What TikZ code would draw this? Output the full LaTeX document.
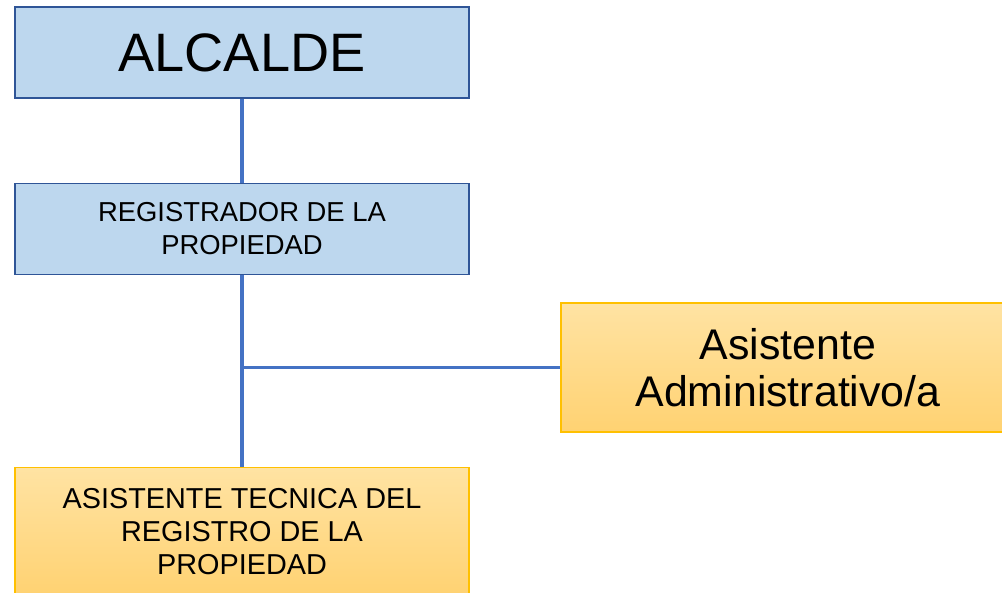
\documentclass[tikz,border=0pt]{standalone}
\usepackage{fontspec}
\setmainfont{Liberation Sans}
\usetikzlibrary{positioning}

\definecolor{cajaazul}{HTML}{BDD7EE}
\definecolor{bordeazul}{HTML}{2F5597}
\definecolor{lineaazul}{HTML}{4472C4}
\definecolor{orotop}{HTML}{FFE3A3}
\definecolor{orobot}{HTML}{FFD272}
\definecolor{bordeoro}{HTML}{FFC000}

\begin{document}
\begin{tikzpicture}[
  azul/.style={draw=bordeazul, line width=0.8pt, fill=cajaazul, minimum width=11.35cm, minimum height=2.275cm, align=center, inner sep=0pt},
  oro/.style={draw=bordeoro, line width=0.8pt, top color=orotop, bottom color=orobot, minimum width=11.35cm, align=center, inner sep=0pt},
  enlace/.style={lineaazul, line width=2.8pt}]
	  \useasboundingbox (0,0) rectangle (25.05,-14.8);
	  \clip (0,0) rectangle (25.05,-14.8);

	  % Jefatura
	  \node[azul, font=\fontsize{38.5}{44}\selectfont] (alcalde) at (6.05,-1.3125) {ALCALDE};
	  \node[azul, below=2.1cm of alcalde, font=\fontsize{19.5}{23}\selectfont] (registrador) {REGISTRADOR DE LA\\PROPIEDAD};

	  % Asistentes
	  \node[oro, minimum height=3.2cm, below=4.8cm of registrador, font=\fontsize{20.5}{23.5}\selectfont] (tecnica) {ASISTENTE TECNICA DEL\\REGISTRO DE LA\\PROPIEDAD};
	  \node[oro, minimum height=3.225cm, font=\fontsize{30.5}{33}\selectfont] (administrativo) at (19.7,-9.1875) {Asistente\\Administrativo/a};

	  % Conectores
	  \coordinate (cruce) at (registrador.south |- administrativo.west);
	  \draw[enlace] (alcalde) -- (registrador);
	  \draw[enlace] (registrador) -- (tecnica);
	  \draw[enlace] (cruce) -- (administrativo);
\end{tikzpicture}
\end{document}
